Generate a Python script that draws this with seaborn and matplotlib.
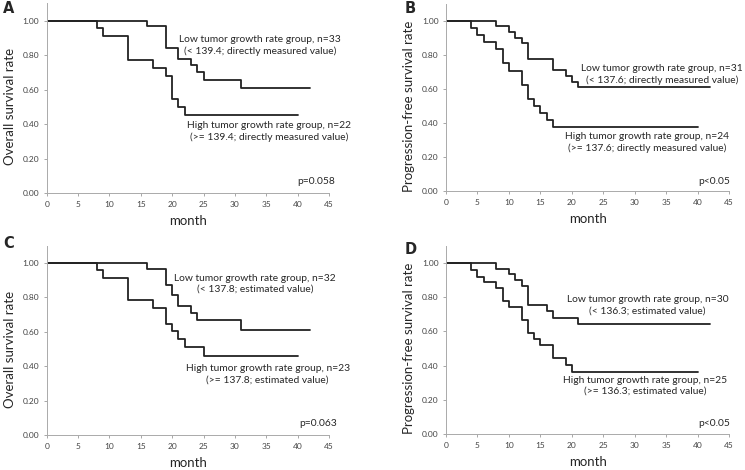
import matplotlib
matplotlib.use("Agg")
import matplotlib.pyplot as plt
import seaborn as sns
import numpy as np

sns.set_style("white")
plt.rcParams['font.family'] = ['Lato', 'DejaVu Sans']

# --- dati (tempo in mesi, sopravvivenza) ---
A_low_t = [0, 16, 19, 21, 23, 24, 25, 31, 42]
A_low_s = [1.0, 0.97, 0.84, 0.78, 0.74, 0.70, 0.655, 0.61, 0.61]
A_high_t = [0, 8, 9, 13, 17, 19, 20, 21, 22, 40]
A_high_s = [1.0, 0.955, 0.91, 0.77, 0.727, 0.68, 0.545, 0.50, 0.455, 0.455]

B_low_t = [0, 8, 10, 11, 12, 13, 17, 19, 20, 21, 42]
B_low_s = [1.0, 0.968, 0.935, 0.90, 0.87, 0.775, 0.71, 0.675, 0.64, 0.61, 0.61]
B_high_t = [0, 4, 5, 6, 8, 9, 10, 12, 13, 14, 15, 16, 17, 40]
B_high_s = [1.0, 0.958, 0.917, 0.875, 0.833, 0.75, 0.708, 0.625, 0.54, 0.50, 0.458, 0.417, 0.375, 0.375]

C_low_t = [0, 16, 19, 20, 21, 23, 24, 31, 42]
C_low_s = [1.0, 0.965, 0.873, 0.812, 0.747, 0.708, 0.67, 0.61, 0.61]
C_high_t = [0, 8, 9, 13, 17, 19, 20, 21, 22, 25, 40]
C_high_s = [1.0, 0.957, 0.912, 0.783, 0.738, 0.647, 0.602, 0.557, 0.512, 0.46, 0.46]

D_low_t = [0, 8, 10, 11, 12, 13, 16, 17, 21, 42]
D_low_s = [1.0, 0.967, 0.935, 0.90, 0.865, 0.752, 0.718, 0.68, 0.643, 0.643]
D_high_t = [0, 4, 5, 6, 8, 9, 10, 12, 13, 14, 15, 17, 19, 20, 40]
D_high_s = [1.0, 0.96, 0.92, 0.89, 0.852, 0.778, 0.742, 0.665, 0.592, 0.556, 0.52, 0.444, 0.405, 0.364, 0.364]

letters = ['A', 'B', 'C', 'D']
ylabels = ['Overall survival rate', 'Progression-free survival rate',
           'Overall survival rate', 'Progression-free survival rate']
low_texts = ['Low tumor growth rate group, n=33\n(< 139.4; directly measured value)',
             'Low tumor growth rate group, n=31\n(< 137.6; directly measured value)',
             'Low tumor growth rate group, n=32\n(< 137.8; estimated value)',
             'Low tumor growth rate group, n=30\n(< 136.3; estimated value)']
high_texts = ['High tumor growth rate group, n=22\n(>= 139.4; directly measured value)',
              'High tumor growth rate group, n=24\n(>= 137.6; directly measured value)',
              'High tumor growth rate group, n=23\n(>= 137.8; estimated value)',
              'High tumor growth rate group, n=25\n(>= 136.3; estimated value)']
p_texts = ['p=0.058', 'p<0.05', 'p=0.063', 'p<0.05']

x_ticks = np.arange(0, 50, 5)
y_ticks = [0.0, 0.2, 0.4, 0.6, 0.8, 1.0]

curves = [(A_low_t, A_low_s, A_high_t, A_high_s),
          (B_low_t, B_low_s, B_high_t, B_high_s),
          (C_low_t, C_low_s, C_high_t, C_high_s),
          (D_low_t, D_low_s, D_high_t, D_high_s)]

# posizione assi [left, bottom, width, height]
rects = [[0.0627, 0.589, 0.379, 0.404],
         [0.5987, 0.593, 0.380, 0.399],
         [0.0627, 0.0745, 0.379, 0.4026],
         [0.5987, 0.076, 0.380, 0.401]]
# posizione testi (coordinate dati)
low_pos = [(34.0, 0.856), (34.3, 0.683), (33.2, 0.879), (32.0, 0.755)]
high_pos = [(35.4, 0.355), (31.9, 0.288), (35.2, 0.353), (31.6, 0.283)]
p_pos = [(45.9, 0.065), (45.15, 0.055), (46.2, 0.068), (45.15, 0.06)]
letter_pos = [(0.004, 0.997), (0.543, 0.997), (0.004, 0.497), (0.543, 0.486)]

fig = plt.figure(figsize=(7.45, 4.7), dpi=100)

for i in range(4):
    ax = fig.add_axes(rects[i])
    lt, ls, ht, hs = curves[i]
    sns.lineplot(x=lt, y=ls, ax=ax, color='#222222', lw=1.3,
                 drawstyle='steps-post', estimator=None)
    sns.lineplot(x=ht, y=hs, ax=ax, color='#222222', lw=1.3,
                 drawstyle='steps-post', estimator=None)

    ax.set_xlim(0, 45)
    ax.set_ylim(0, 1.1)
    ax.set_xticks(x_ticks)
    ax.set_xticklabels([str(v) for v in x_ticks])
    ax.set_yticks(y_ticks)
    ax.set_yticklabels([f'{v:.2f}' for v in y_ticks])
    ax.tick_params(axis='both', labelsize=6, labelcolor='#444444',
                   length=2.5, width=0.6, color='#999999', pad=3)
    ax.tick_params(axis='both', direction='out', left=True, bottom=True)
    for s in ['top', 'right']:
        ax.spines[s].set_visible(False)
    for s in ['left', 'bottom']:
        ax.spines[s].set_color('#aaaaaa')
        ax.spines[s].set_linewidth(0.7)

    ax.set_xlabel('month', fontsize=9.5)
    ax.set_ylabel(ylabels[i], fontsize=9.5)
    ax.xaxis.set_label_coords(0.5, -0.115)
    ax.yaxis.set_label_coords(-0.108, 0.5 / 1.1)

    ax.text(low_pos[i][0], low_pos[i][1], low_texts[i], ha='center', va='center',
            fontsize=7.4, linespacing=1.35)
    ax.text(high_pos[i][0], high_pos[i][1], high_texts[i], ha='center', va='center',
            fontsize=7.4, linespacing=1.35)
    ax.text(p_pos[i][0], p_pos[i][1], p_texts[i], ha='right', va='center',
            fontsize=7.4, clip_on=False)

    fig.text(letter_pos[i][0], letter_pos[i][1], letters[i], fontsize=10.5,
             fontweight='bold', family='DejaVu Sans', ha='left', va='top')

plt.savefig('out.png', dpi=100)
plt.close()
